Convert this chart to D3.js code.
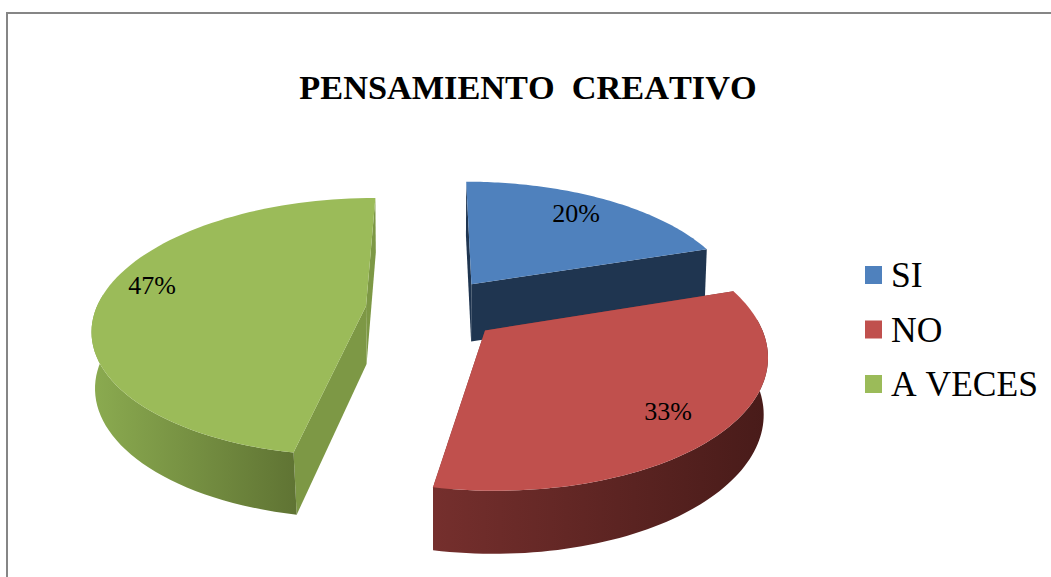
<!DOCTYPE html>
<html>
<head>
<meta charset="utf-8">
<script src="https://d3js.org/d3.v7.min.js"></script>
<style>
    html, body { margin: 0; background: #fff; overflow: hidden; }
    text { font-family: "Liberation Serif", serif; fill: #000; white-space: pre; font-kerning: none; }
</style>
</head>
<body>
<svg id="chart" width="1051" height="577"></svg>
<script>
var title = "PENSAMIENTO  CREATIVO";
var categories = ["SI", "NO", "A VECES"];
var values = [20, 33, 47];
var valueLabels = ["20%", "33%", "47%"];

var topColors = ["#4f81bd", "#c0504d", "#9bbb59"];
var cutColors = ["#1f3550", "#7a3230", "#7d9845"];
var wallColors = [["#1f3550", "#1f3550"], ["#752f2d", "#481b19"], ["#8bab50", "#5f7333"]];

var svg = d3.select("#chart");

// Perspective of the pie plane, fitted from the corners of the slices
var centerX = 433, horizonY = -472, planeDepth = 781;
var radiusX = 270, perspective = 0.162;
var explode = 0.25, height = 58;

function projectTop(x, z) {
    var w = 1 / (1 + perspective * z);
    return [centerX + radiusX * x * w, horizonY + planeDepth * w];
}

function projectBottom(x, z) {
    var w = 1 / (1 + perspective * z);
    var shrink = 0.992 - 0.08 * Math.max(0, w - 1);
    return [centerX + radiusX * x * w * shrink, horizonY + planeDepth * w + height * Math.pow(w, 0.4)];
}

var arcs = d3.pie().sort(null)(values);
var line = d3.line();

// Frame
svg.append("path")
    .attr("d", "M7,577V13H1051")
    .attr("fill", "none")
    .attr("stroke", "#868686")
    .attr("stroke-width", 2);

var defs = svg.append("defs");
wallColors.forEach(function (c, i) {
    var extent = [[0, 0], [433, 768], [92, 298]][i];
    var grad = defs.append("linearGradient")
        .attr("id", "wall" + i)
        .attr("gradientUnits", "userSpaceOnUse")
        .attr("x1", extent[0]).attr("x2", extent[1])
        .attr("y1", 0).attr("y2", 0);
    grad.append("stop").attr("offset", 0).attr("stop-color", c[0]);
    grad.append("stop").attr("offset", 1).attr("stop-color", c[1]);
});

// Slices, back to front
[2, 0, 1].forEach(function (i) {
    var d = arcs[i];
    var mid = (d.startAngle + d.endAngle) / 2;
    var ox = explode * Math.sin(mid), oz = explode * Math.cos(mid);

    var angles = d3.range(0, 81).map(function (t) {
        return d.startAngle + (d.endAngle - d.startAngle) * t / 80;
    });
    var rim = angles.map(function (a) { return [ox + Math.sin(a), oz + Math.cos(a)]; });
    var top = rim.map(function (p) { return projectTop(p[0], p[1]); });
    var bottom = rim.map(function (p) { return projectBottom(p[0], p[1]); });
    var apexTop = projectTop(ox, oz), apexBottom = projectBottom(ox, oz);

    var g = svg.append("g");

    // Cut faces
    [0, rim.length - 1].forEach(function (k) {
        g.append("path")
            .attr("d", line([apexTop, top[k], bottom[k], apexBottom]) + "Z")
            .attr("fill", cutColors[i]);
    });

    // Outer wall, only the part of the rim turned to the viewer
    var facing = d3.range(rim.length).filter(function (k) { return Math.cos(angles[k]) < 0.1; });
    if (facing.length) {
        var wallTop = facing.map(function (k) { return top[k]; });
        var wallBottom = facing.map(function (k) { return bottom[k]; }).reverse();
        g.append("path")
            .attr("d", line(wallTop.concat(wallBottom)) + "Z")
            .attr("fill", "url(#wall" + i + ")");
    }

    // Top face
    g.append("path")
        .attr("d", line([apexTop].concat(top)) + "Z")
        .attr("fill", topColors[i]);
});

// Percent labels
var labelSpots = [[576, 222], [668, 420], [152, 294]];
svg.selectAll("text.pct")
    .data(valueLabels)
    .join("text")
    .attr("class", "pct")
    .attr("x", function (d, i) { return labelSpots[i][0]; })
    .attr("y", function (d, i) { return labelSpots[i][1]; })
    .attr("text-anchor", "middle")
    .attr("font-size", 26)
    .text(function (d) { return d; });

// Title
svg.append("text")
    .attr("x", 528)
    .attr("y", 99)
    .attr("text-anchor", "middle")
    .attr("font-size", 34.3)
    .attr("font-weight", "bold")
    .text(title);

// Legend
var legendY = d3.scalePoint().domain(categories).range([275, 384]);
var legend = svg.selectAll("g.legend")
    .data(categories)
    .join("g")
    .attr("class", "legend")
    .attr("transform", function (d) { return "translate(865," + legendY(d) + ")"; });

legend.append("rect")
    .attr("y", -9)
    .attr("width", 17)
    .attr("height", 18)
    .attr("fill", function (d, i) { return topColors[i]; });

legend.append("text")
    .attr("x", 26)
    .attr("y", 12)
    .attr("font-size", 35.5)
    .text(function (d) { return d; });
</script>
</body>
</html>
